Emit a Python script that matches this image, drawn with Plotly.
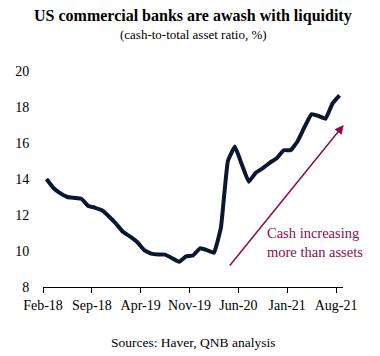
import plotly.graph_objects as go

months = ["Feb-18","Mar-18","Apr-18","May-18","Jun-18","Jul-18","Aug-18","Sep-18","Oct-18","Nov-18","Dec-18",
          "Jan-19","Feb-19","Mar-19","Apr-19","May-19","Jun-19","Jul-19","Aug-19","Sep-19","Oct-19","Nov-19","Dec-19",
          "Jan-20","Feb-20","Mar-20","Apr-20","May-20","Jun-20","Jul-20","Aug-20","Sep-20","Oct-20","Nov-20","Dec-20",
          "Jan-21","Feb-21","Mar-21","Apr-21","May-21","Jun-21","Jul-21","Aug-21"]
cash_ratio = [14.0, 13.5, 13.2, 13.0, 12.95, 12.9, 12.5, 12.4, 12.25, 11.9, 11.5,
              11.05, 10.8, 10.5, 10.05, 9.85, 9.8, 9.8, 9.6, 9.4, 9.7, 9.75, 10.15,
              10.05, 9.9, 11.3, 15.0, 15.8, 14.8, 13.85, 14.35, 14.6, 14.9, 15.15, 15.6,
              15.6, 16.1, 16.9, 17.6, 17.5, 17.35, 18.2, 18.65]
tick_labels = ["Feb-18", "Sep-18", "Apr-19", "Nov-19", "Jun-20", "Jan-21", "Aug-21"]
y_ticks = [8, 10, 12, 14, 16, 18, 20]

idx = list(range(len(months)))
tick_pos = [months.index(t) - 0.5 for t in tick_labels]

FONT = "Liberation Serif, Times New Roman, DejaVu Serif, serif"
MAROON = "#8a0c4f"

fig = go.Figure()
fig.add_trace(go.Scatter(
    x=idx, y=cash_ratio, mode="lines",
    line=dict(color="#0b1631", width=4, shape="spline", smoothing=0.3),
    customdata=months, hovertemplate="%{customdata}: %{y}<extra></extra>",
))

fig.update_layout(
    width=380, height=356,
    margin=dict(l=43, r=37, t=71, b=69),
    paper_bgcolor="white", plot_bgcolor="white",
    showlegend=False,
    font=dict(family=FONT, size=14, color="black"),
    xaxis=dict(range=[-0.5, 42.5], tickvals=tick_pos, ticktext=tick_labels,
               showgrid=False, zeroline=False, showline=True, linecolor="black", linewidth=1,
               ticks="outside", ticklen=5, tickcolor="black", tickwidth=1,
               tickfont=dict(family=FONT, size=14)),
    yaxis=dict(range=[8, 20], tickvals=y_ticks, showgrid=False, zeroline=False, showline=False,
               ticks="outside", ticklen=10, tickcolor="rgba(0,0,0,0)",
               tickfont=dict(family=FONT, size=14)),
    annotations=[
        dict(text="<b>US commercial banks are awash with liquidity</b>", xref="paper", yref="paper",
             x=0.5, y=1.2546, xanchor="center", yanchor="middle", showarrow=False,
             font=dict(family=FONT, size=16, color="black")),
        dict(text="(cash-to-total asset ratio, %)", xref="paper", yref="paper",
             x=0.5, y=1.1667, xanchor="center", yanchor="middle", showarrow=False,
             font=dict(family=FONT, size=13, color="black")),
        dict(text="Sources: Haver, QNB analysis", xref="paper", yref="paper",
             x=0.5, y=-0.259, xanchor="center", yanchor="middle", showarrow=False,
             font=dict(family=FONT, size=13.5, color="black")),
        dict(x=42.6, y=17.0, ax=26.1, ay=9.11, xref="x", yref="y", axref="x", ayref="y",
             text="", showarrow=True, arrowhead=2, arrowsize=1.2, arrowwidth=1.5,
             arrowcolor=MAROON, standoff=0),
        dict(text="Cash increasing<br>more than assets", x=38.5, y=10.5, xref="x", yref="y",
             xanchor="center", yanchor="middle", showarrow=False, align="left",
             font=dict(family=FONT, size=14.5, color=MAROON)),
    ],
)

fig.write_html("out.html", config={"displayModeBar": False},
               post_script="document.body.style.margin='0px';")
